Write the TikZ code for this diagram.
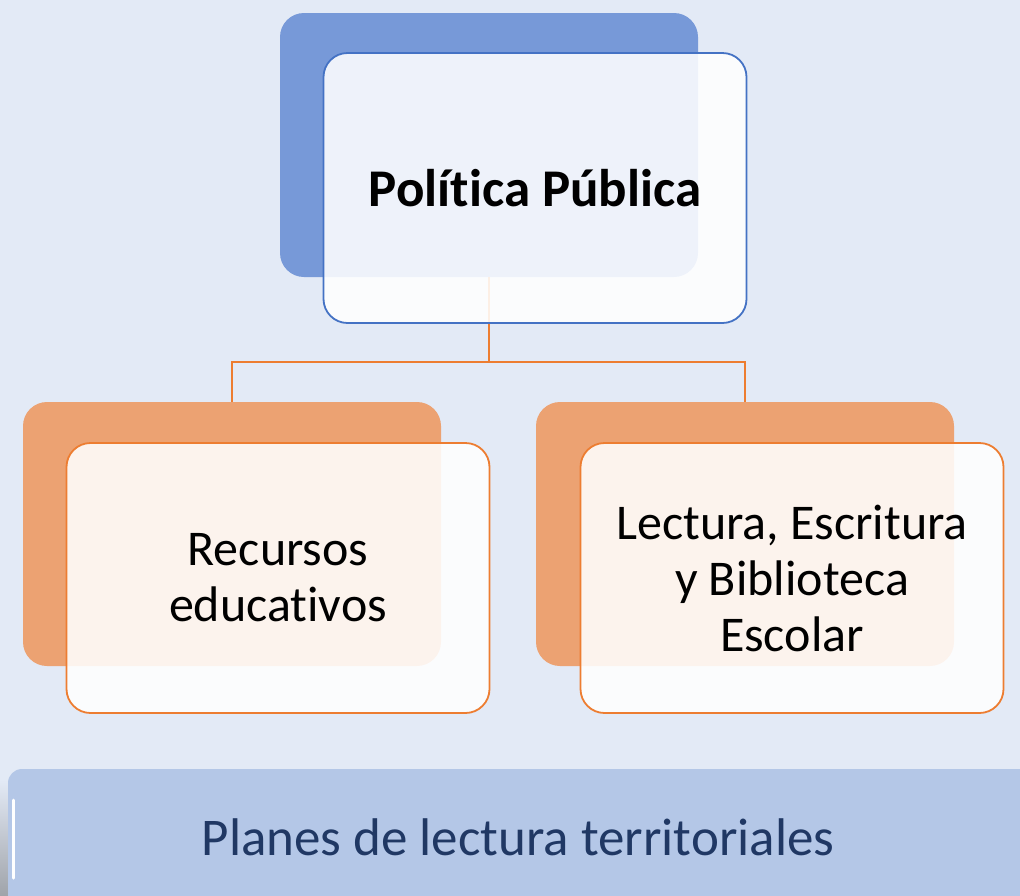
\documentclass[tikz,border=0pt]{standalone}
\usepackage{fontspec}
\setmainfont{Carlito}[Ligatures=NoCommon]
\usetikzlibrary{positioning}

\definecolor{bgpale}{RGB}{227,234,246}
\definecolor{azul}{RGB}{119,153,216}
\definecolor{azulborde}{RGB}{68,114,196}
\definecolor{naranja}{RGB}{236,162,114}
\definecolor{naranjaborde}{RGB}{237,125,49}
\definecolor{barra}{RGB}{180,199,231}
\definecolor{textobarra}{RGB}{32,56,100}
\definecolor{sombra}{RGB}{160,164,170}

\begin{document}
\begin{tikzpicture}[x=1pt,y=-1pt,
    back/.style={rectangle,rounded corners=24pt,minimum width=418pt,minimum height=264pt},
    front/.style={rectangle,rounded corners=24pt,draw,line width=1.8pt,fill=white,fill opacity=0.88,
                  text opacity=1,minimum width=423pt,minimum height=270pt,align=center},
    conn/.style={naranjaborde,line width=1.8pt}]

            \useasboundingbox[fill=bgpale] (0,0) rectangle (1020,895);

            \node[back,fill=azul] (ppb) at (489,145) {};
            \node[back,fill=naranja] (reb) at (232,534) {};
            \node[back,fill=naranja] (leb) at (745,534) {};

            \coordinate (jn) at (489,362);
            \draw[conn] (ppb.south) -- (jn) -| (reb.north);
            \draw[conn] (jn) -| (leb.north);

            \node[front,draw=azulborde,font=\bfseries\fontsize{53}{64}\selectfont] (pp) at (535,188) {Política Pública};
            \node[front,draw=naranjaborde,font=\fontsize{50}{56}\selectfont] (re) at (278,578) {Recursos\\educativos};
            \node[front,draw=naranjaborde,font=\fontsize{50}{56}\selectfont] (le) at (792,578) {Lectura, Escritura\\y Biblioteca\\Escolar};

            % bottom bar
            \shade[top color=bgpale,bottom color=sombra] (0,780) rectangle (14,895);
            \node[rectangle,rounded corners=14pt,fill=barra,minimum width=1030pt,minimum height=140pt] (pl) at (523,839) {};
            \draw[white,line width=3pt,line cap=round] (13,800) -- (13,878);
            \node[text=textobarra,font=\fontsize{53}{64}\selectfont] (plt) at (518,837) {Planes de lectura territoriales};

        \end{tikzpicture}
\end{document}
